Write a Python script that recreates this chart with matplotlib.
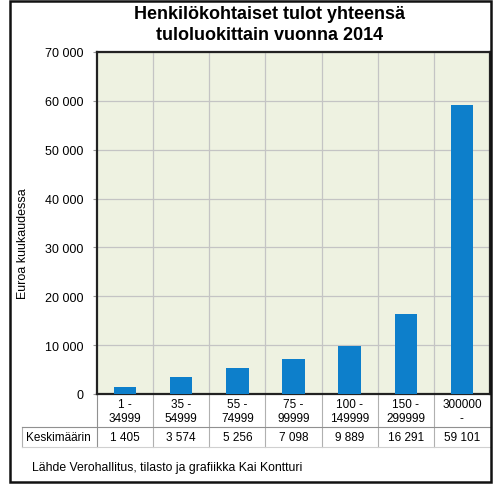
import matplotlib.pyplot as plt
from matplotlib.patches import Rectangle
import numpy as np

plt.rcParams['font.family'] = ['Liberation Sans', 'DejaVu Sans']

# Tuloluokat ja keskimääräiset tulot
luokat = ["1 -\n34999", "35 -\n54999", "55 -\n74999", "75 -\n99999",
          "100 -\n149999", "150 -\n299999", "300000\n-"]
keskiarvot = [1405, 3574, 5256, 7098, 9889, 16291, 59101]
keskiarvo_tekstit = ["1 405", "3 574", "5 256", "7 098", "9 889", "16 291", "59 101"]
y_tikit = [0, 10000, 20000, 30000, 40000, 50000, 60000, 70000]

fig = plt.figure(figsize=(4.93, 4.85), dpi=100)
W, H = 493, 485
ax = fig.add_axes([97 / W, (H - 395) / H, (490 - 97) / W, (395 - 53) / H])

x = np.arange(len(keskiarvot))
ax.set_facecolor("#eef2e1")
ax.bar(x, keskiarvot, width=0.4, color="#0d7fcb", zorder=3)

ax.set_xlim(-0.5, len(keskiarvot) - 0.5)
ax.set_ylim(0, 70000)
ax.set_yticks(y_tikit)
ax.set_yticklabels([f"{v:,}".replace(",", " ") for v in y_tikit], fontsize=9)
ax.tick_params(axis="y", length=3, color="#999999", pad=7)
ax.set_xticks([])
for v in y_tikit[1:]:
    ax.axhline(v, color="#c4c4c4", lw=0.9, zorder=1)
for b in np.arange(0.5, len(keskiarvot) - 0.5):
    ax.axvline(b, color="#c4c4c4", lw=0.9, zorder=1)
for s in ax.spines.values():
    s.set_linewidth(1.6)
    s.set_color("#222222")

fig.text(23 / W, 1 - 244 / H, "Euroa kuukaudessa", rotation=90, ha="center",
         va="center", fontsize=9)

fig.text(270 / W, 1 - 25 / H, "Henkilökohtaiset tulot yhteensä\ntuloluokittain vuonna 2014",
         ha="center", va="center", fontsize=13, fontweight="bold", linespacing=1.3)

# Taulukko akselin alla
tr = ax.get_xaxis_transform()
ay = lambda py: (395 - py) / (395 - 53)
for i, lab in enumerate(luokat):
    ax.text(i, ay(412), lab, transform=tr, ha="center", va="center",
            fontsize=8.5, linespacing=1.15)
    ax.text(i, ay(438), keskiarvo_tekstit[i], transform=tr, ha="center",
            va="center", fontsize=8.5)
ax.text(-0.5 - 39 / 56.2, ay(438), "Keskimäärin", transform=tr, ha="center",
        va="center", fontsize=8.5)

x_vasen = -0.5 - 75 / 56.2
for b in np.arange(0.5, len(keskiarvot) - 0.5):
    ax.plot([b, b], [0, ay(448)], transform=tr, color="#b0b0b0", lw=0.8, clip_on=False)
ax.plot([-0.5, -0.5], [0, ay(448)], transform=tr, color="#909090", lw=0.8, clip_on=False)
ax.plot([x_vasen, x_vasen], [ay(428), ay(448)], transform=tr, color="#b0b0b0", lw=0.8, clip_on=False)
ax.plot([x_vasen, len(keskiarvot) - 0.5], [ay(428)] * 2, transform=tr,
        color="#909090", lw=0.8, clip_on=False)
ax.plot([x_vasen, len(keskiarvot) - 0.5], [ay(448)] * 2, transform=tr,
        color="#d0d0d0", lw=0.8, clip_on=False)

fig.text(32 / W, 1 - 468 / H, "Lähde Verohallitus, tilasto ja grafiikka Kai Kontturi",
         ha="left", va="center", fontsize=8.8)

fig.patches.append(Rectangle((10 / W, 2 / H), (491 - 10) / W, (483 - 2) / H,
                             transform=fig.transFigure, fill=False,
                             edgecolor="#111111", lw=1.8))

fig.savefig("out.png", dpi=100)
